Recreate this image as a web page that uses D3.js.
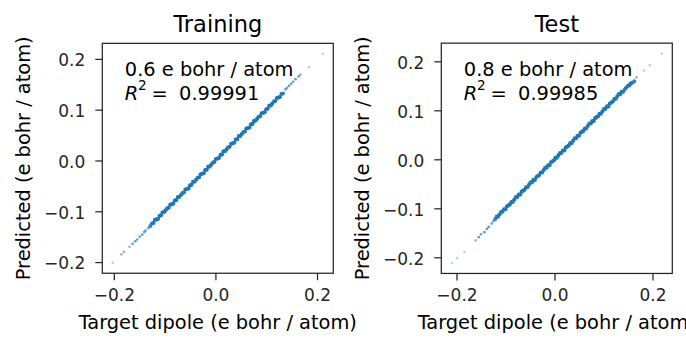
<!DOCTYPE html>
<html>
<head>
<meta charset="utf-8">
<script src="https://cdn.jsdelivr.net/npm/d3@7"></script>
<style>
  html, body { margin: 0; padding: 0; background: #ffffff; }
  svg { display: block; font-family: "DejaVu Sans", sans-serif; }
</style>
</head>
<body>
<svg id="chart" width="686" height="347"></svg>
<script>
// ---------------- data ----------------
const panelTitles = ["Training", "Test"];
const errorLabels = ["0.6 e bohr / atom", "0.8 e bohr / atom"];
const r2Labels = ["0.99991", "0.99985"];
const xTickValues = [-0.2, 0.0, 0.2];
const yTickValues = [-0.2, -0.1, 0.0, 0.1, 0.2];
const xAxisLabel = "Target dipole (e bohr / atom)";
const yAxisLabel = "Predicted (e bohr / atom)";

const trainTarget = [
  -0.202, -0.185, -0.180, -0.169, -0.163, -0.158, -0.154, -0.149, -0.144, -0.140, -0.1376, -0.132, -0.128,
  -0.125,-0.122,-0.119,-0.116,-0.113,-0.110,-0.107,-0.104,-0.101,-0.098,
  -0.095,-0.092,-0.089,-0.086,-0.083,-0.080,-0.077,-0.074,-0.071,-0.068,
  -0.065,-0.062,-0.059,-0.056,-0.053,-0.050,-0.047,-0.044,-0.041,-0.038,
  -0.035,-0.032,-0.029,-0.026,-0.023,-0.020,-0.017,-0.014,-0.011,-0.008,
  -0.005,-0.002,0.001,0.004,0.007,0.010,0.013,0.016,0.019,0.022,
  0.025,0.028,0.031,0.034,0.037,0.040,0.043,0.046,0.049,0.052,
  0.055,0.058,0.061,0.064,0.067,0.070,0.073,0.076,0.079,0.082,
  0.085,0.088,0.091,0.094,0.097,0.100,0.103,0.106,0.109,0.112,
  0.115,0.118,0.121,0.124,0.127,0.130,0.133,
  0.138, 0.141, 0.145, 0.149, 0.153, 0.1576, 0.164, 0.1675, 0.184, 0.2114
];
const trainPredicted = [
  -0.2014, -0.185, -0.180, -0.170, -0.164, -0.159, -0.1555, -0.150, -0.146, -0.141, -0.138, -0.133, -0.129,
  -0.124,-0.123,-0.117,-0.116,-0.115,-0.109,-0.108,-0.102,-0.102,-0.098,
  -0.094,-0.093,-0.087,-0.086,-0.085,-0.079,-0.078,-0.072,-0.072,-0.068,
  -0.064,-0.063,-0.057,-0.056,-0.055,-0.049,-0.048,-0.042,-0.042,-0.038,
  -0.034,-0.033,-0.027,-0.026,-0.025,-0.019,-0.018,-0.012,-0.012,-0.008,
  -0.004,-0.003,0.003,0.004,0.005,0.011,0.012,0.018,0.018,0.022,
  0.026,0.027,0.033,0.034,0.035,0.041,0.042,0.048,0.048,0.052,
  0.056,0.057,0.063,0.064,0.065,0.071,0.072,0.078,0.078,0.082,
  0.086,0.087,0.093,0.094,0.095,0.101,0.102,0.108,0.108,0.112,
  0.116,0.117,0.123,0.124,0.125,0.131,0.132,
  0.140, 0.143, 0.147, 0.151, 0.155, 0.160, 0.1655, 0.169, 0.1837, 0.210
];

const testTarget = [
  -0.2096, -0.1988, -0.1837, -0.161, -0.1545, -0.150, -0.143, -0.138, -0.134, -0.128, -0.1245,
  -0.121,-0.118,-0.115,-0.112,-0.109,-0.106,-0.103,-0.100,-0.097,-0.094,
  -0.091,-0.088,-0.085,-0.082,-0.079,-0.076,-0.073,-0.070,-0.067,-0.064,
  -0.061,-0.058,-0.055,-0.052,-0.049,-0.046,-0.043,-0.040,-0.037,-0.034,
  -0.031,-0.028,-0.025,-0.022,-0.019,-0.016,-0.013,-0.010,-0.007,-0.004,
  -0.001,0.002,0.005,0.008,0.011,0.014,0.017,0.020,0.023,0.026,
  0.029,0.032,0.035,0.038,0.041,0.044,0.047,0.050,0.053,0.056,
  0.059,0.062,0.065,0.068,0.071,0.074,0.077,0.080,0.083,0.086,
  0.089,0.092,0.095,0.098,0.101,0.104,0.107,0.110,0.113,0.116,
  0.119,0.122,0.125,0.128,0.131,0.134,0.137,0.140,
  0.143, 0.146, 0.150, 0.1524, 0.155, 0.158, 0.1627, 0.1673, 0.183, 0.1945, 0.219
];
const testPredicted = [
  -0.2116, -0.2016, -0.189, -0.1656, -0.159, -0.153, -0.1487, -0.142, -0.138, -0.131, -0.126,
  -0.122,-0.117,-0.117,-0.112,-0.107,-0.107,-0.102,-0.102,-0.096,-0.094,
  -0.092,-0.087,-0.087,-0.082,-0.077,-0.077,-0.072,-0.072,-0.066,-0.064,
  -0.062,-0.057,-0.057,-0.052,-0.047,-0.047,-0.042,-0.042,-0.036,-0.034,
  -0.032,-0.027,-0.027,-0.022,-0.017,-0.017,-0.012,-0.012,-0.006,-0.004,
  -0.002,0.003,0.003,0.008,0.013,0.013,0.018,0.018,0.024,0.026,
  0.028,0.033,0.033,0.038,0.043,0.043,0.048,0.048,0.054,0.056,
  0.058,0.063,0.063,0.068,0.073,0.073,0.078,0.078,0.084,0.086,
  0.088,0.093,0.093,0.098,0.103,0.103,0.108,0.108,0.114,0.116,
  0.118,0.123,0.123,0.128,0.133,0.133,0.138,0.138,
  0.142, 0.146, 0.150, 0.1505, 0.154, 0.156, 0.159, 0.1674, 0.181, 0.1919, 0.2157
];

const panelTargets = [trainTarget, testTarget];
const panelPredicted = [trainPredicted, testPredicted];

// ---------------- layout ----------------
const panelLeft = [102.3, 441.3];
const panelWidth = 231;
const panelCenterY = 158.3;
const color = "#1f77b4";
const ink = "#262626";
const fmt = d3.format(".1f");

const svg = d3.select("#chart");
svg.append("rect").attr("width", 686).attr("height", 347).attr("fill", "#fff");

function padded(ext) {
  const r = ext[1] - ext[0];
  return [ext[0] - 0.05 * r, ext[1] + 0.05 * r];
}

panelTitles.forEach((title, p) => {
  const tx = panelTargets[p], py = panelPredicted[p];
  const xDom = padded(d3.extent(tx));
  const yDom = padded(d3.extent(py));
  const k = panelWidth / (xDom[1] - xDom[0]);        // equal aspect
  const H = (yDom[1] - yDom[0]) * k;
  const x0 = panelLeft[p], x1 = x0 + panelWidth;
  const y0 = panelCenterY - H / 2, y1 = panelCenterY + H / 2;

  const x = d3.scaleLinear().domain(xDom).range([x0, x1]);
  const y = d3.scaleLinear().domain(yDom).range([y1, y0]);

  const g = svg.append("g");

  // points: opacity grows with local crowding, as overlapping samples do
  const pts = tx.map((t, i) => ({ px: x(t), py: y(py[i]) }));
  pts.forEach((a, i) => {
    let n = 0;
    pts.forEach((b, j) => {
      if (i !== j && Math.hypot(a.px - b.px, a.py - b.py) < 5) n++;
    });
    a.op = Math.min(1, 0.3 + 0.2 * n);
    a.r = n >= 3 ? 2.05 : 1.35;
  });
  g.append("g").selectAll("circle").data(pts).join("circle")
    .attr("cx", d => d.px).attr("cy", d => d.py)
    .attr("r", d => d.r)
    .attr("fill", color)
    .attr("fill-opacity", d => d.op);

  // x axis
  const ax = g.append("g").attr("transform", `translate(0,${y1})`)
    .call(d3.axisBottom(x).tickValues(xTickValues).tickSize(7).tickPadding(9).tickFormat(fmt));
  ax.select(".domain").remove();
  ax.selectAll("line").attr("stroke", ink).attr("stroke-width", 1.25);
  ax.selectAll("text").attr("fill", ink).attr("font-size", 17)
    .attr("font-family", "DejaVu Sans").attr("y", 28).attr("dy", null);

  // y axis
  const ay = g.append("g").attr("transform", `translate(${x0},0)`)
    .call(d3.axisLeft(y).tickValues(yTickValues).tickSize(7).tickPadding(10).tickFormat(fmt));
  ay.select(".domain").remove();
  ay.selectAll("line").attr("stroke", ink).attr("stroke-width", 1.25);
  ay.selectAll("text").attr("fill", ink).attr("font-size", 17)
    .attr("font-family", "DejaVu Sans").attr("dy", "0.4em");

  // frame
  g.append("rect").attr("x", x0).attr("y", y0)
    .attr("width", x1 - x0).attr("height", y1 - y0)
    .attr("fill", "none").attr("stroke", ink).attr("stroke-width", 1.25);

  // title
  g.append("text").attr("x", (x0 + x1) / 2).attr("y", 31.8)
    .attr("text-anchor", "middle").attr("font-size", 22.5).attr("fill", "#000")
    .text(title);

  // axis labels
  g.append("text").attr("x", (x0 + x1) / 2).attr("y", 329.3)
    .attr("text-anchor", "middle").attr("font-size", 19.4).attr("fill", "#000")
    .text(xAxisLabel);
  const ylx = x0 - 72.3;
  g.append("text")
    .attr("transform", `translate(${ylx},${(y0 + y1) / 2}) rotate(-90)`)
    .attr("text-anchor", "middle").attr("font-size", 19.4).attr("fill", "#000")
    .text(yAxisLabel);

  // annotation
  const axn = x0 + 22.5;
  g.append("text").attr("x", axn).attr("y", 76)
    .attr("font-size", 19.4).attr("fill", "#000").text(errorLabels[p]);
  const l2 = g.append("text").attr("y", 100).attr("font-size", 19.4).attr("fill", "#000");
  l2.append("tspan").attr("x", axn).attr("font-style", "italic").text("R");
  l2.append("tspan").attr("x", axn + 13.2).attr("dy", -10.5).attr("font-size", 13.6).text("2");
  l2.append("tspan").attr("x", axn + 26.8).attr("dy", 10.5).text("=");
  l2.append("tspan").attr("x", axn + 54.3).text(r2Labels[p]);
});
</script>
</body>
</html>
